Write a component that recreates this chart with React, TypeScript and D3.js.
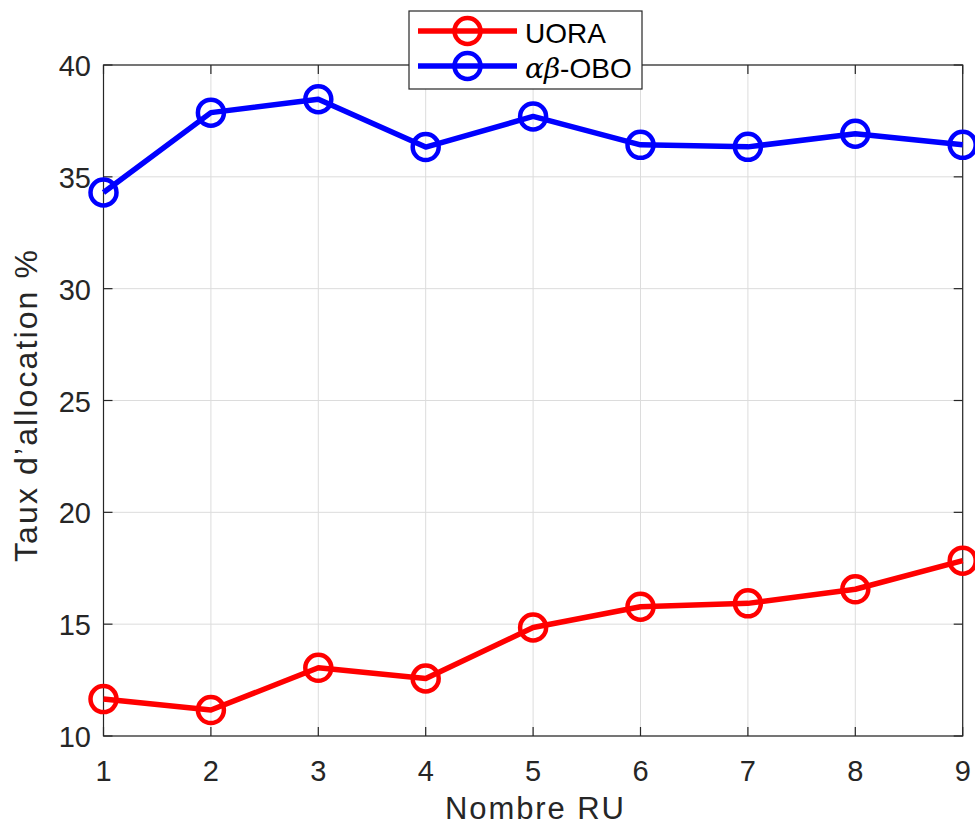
import React from "react";
import * as d3 from "d3";

const xValues = [1, 2, 3, 4, 5, 6, 7, 8, 9];
const uoraValues = [11.65, 11.16, 13.05, 12.57, 14.85, 15.78, 15.93, 16.56, 17.84];
const oboValues = [34.3, 37.87, 38.47, 36.33, 37.7, 36.43, 36.34, 36.93, 36.43];
const yTicks = [10, 15, 20, 25, 30, 35, 40];
const xTicks = [1, 2, 3, 4, 5, 6, 7, 8, 9];

const W = 975, H = 827;
const L = 103.5, R = 962.7, T = 65, B = 736;

export default function App() {
  const x = d3.scaleLinear().domain([1, 9]).range([L, R]);
  const y = d3.scaleLinear().domain([10, 40]).range([B, T]);
  const line = d3.line<number>().x((_, i) => x(xValues[i])).y((d) => y(d));
  const series = [
    { name: "UORA", values: uoraValues, color: "#ff0000" },
    { name: "OBO", values: oboValues, color: "#0000ff" },
  ];
  const font = "'Liberation Sans', Arial, sans-serif";
  const textColor = "#262626";
  const tickLen = 9;
  return (
    <svg width={W} height={H} style={{ position: "absolute", left: 0, top: 0, background: "#fff" }}>
      <rect x={0} y={0} width={W} height={H} fill="#fff" />
      {xTicks.map((t) => (
        <line key={"gx" + t} x1={x(t)} x2={x(t)} y1={T} y2={B} stroke="#dcdcdc" strokeWidth={1} />
      ))}
      {yTicks.map((t) => (
        <line key={"gy" + t} x1={L} x2={R} y1={y(t)} y2={y(t)} stroke="#dcdcdc" strokeWidth={1} />
      ))}
      <rect x={L} y={T} width={R - L} height={B - T} fill="none" stroke="#262626" strokeWidth={1.2} />
      {xTicks.map((t) => (
        <g key={"tx" + t}>
          <line x1={x(t)} x2={x(t)} y1={B} y2={B - tickLen} stroke="#262626" strokeWidth={1.2} />
          <line x1={x(t)} x2={x(t)} y1={T} y2={T + tickLen} stroke="#262626" strokeWidth={1.2} />
          <text x={x(t)} y={771} textAnchor="middle" dominantBaseline="central" fontFamily={font} fontSize={29} fill={textColor}>{t}</text>
        </g>
      ))}
      {yTicks.map((t) => (
        <g key={"ty" + t}>
          <line x1={L} x2={L + tickLen} y1={y(t)} y2={y(t)} stroke="#262626" strokeWidth={1.2} />
          <line x1={R} x2={R - tickLen} y1={y(t)} y2={y(t)} stroke="#262626" strokeWidth={1.2} />
          <text x={91} y={y(t) + 1} textAnchor="end" dominantBaseline="central" fontFamily={font} fontSize={29} fill={textColor}>{t}</text>
        </g>
      ))}
      <text x={534.5} y={819} textAnchor="middle" fontFamily={font} fontSize={31} textLength={179} lengthAdjust="spacing" fill={textColor}>Nombre RU</text>
      <text transform={`translate(37,406) rotate(-90)`} textAnchor="middle" fontFamily={font} fontSize={32} textLength={312} lengthAdjust="spacing" fill={textColor}>Taux d’allocation %</text>
      {series.map((s) => (
        <g key={s.name}>
          <path d={line(s.values) || ""} fill="none" stroke={s.color} strokeWidth={5.5} strokeLinejoin="round" />
          {s.values.map((v, i) => (
            <circle key={i} cx={x(xValues[i])} cy={y(v)} r={13} fill="none" stroke={s.color} strokeWidth={4.5} />
          ))}
        </g>
      ))}
      <rect x={409} y={11} width={233} height={78} fill="#fff" stroke="#262626" strokeWidth={1.2} />
      {series.map((s, i) => {
        const cy = 31 + i * 35;
        return (
          <g key={"lg" + s.name}>
            <line x1={418} x2={517} y1={cy} y2={cy} stroke={s.color} strokeWidth={5.5} />
            <circle cx={467.5} cy={cy} r={13} fill="none" stroke={s.color} strokeWidth={4.5} />
            <text x={525} y={cy + 2} dominantBaseline="central" fontFamily={font} fontSize={28} fill="#000">
              {i === 0 ? "UORA" : (
                <>
                  <tspan fontFamily="'DejaVu Serif', 'Liberation Serif', serif" fontStyle="italic">αβ</tspan>
                  <tspan>-OBO</tspan>
                </>
              )}
            </text>
          </g>
        );
      })}
    </svg>
  );
}
